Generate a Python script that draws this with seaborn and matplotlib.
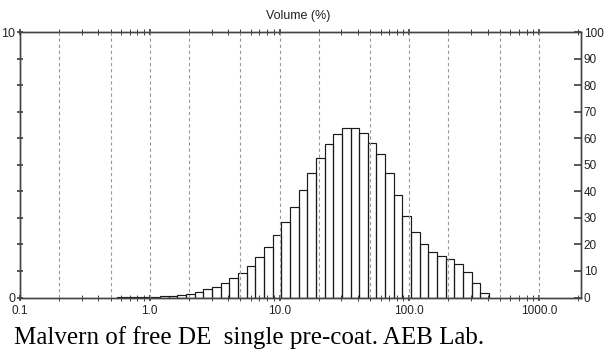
import numpy as np
import pandas as pd
import seaborn as sns
from matplotlib import pyplot as plt
from matplotlib.ticker import LogLocator, NullFormatter

# size class edges (um)
size_edges = [
    0.558, 0.651, 0.759, 0.885, 1.031, 1.202, 1.402, 1.634, 1.905, 2.222,
    2.590, 3.020, 3.521, 4.105, 4.786, 5.580, 6.506, 7.586, 8.845, 10.31,
    12.02, 14.02, 16.34, 19.05, 22.22, 25.90, 30.20, 35.21, 41.05, 47.86,
    55.80, 65.06, 75.86, 88.45, 103.1, 120.2, 140.2, 163.4, 190.5, 222.2,
    259.0, 302.0, 352.1, 410.5,
]
# volume % in each size class
volume_pct = [
    0.01, 0.015, 0.02, 0.025, 0.03, 0.04, 0.06, 0.08, 0.12, 0.21,
    0.31, 0.41, 0.56, 0.75, 0.93, 1.19, 1.51, 1.89, 2.35, 2.85,
    3.42, 4.05, 4.68, 5.27, 5.78, 6.16, 6.37, 6.37, 6.18, 5.83,
    5.39, 4.68, 3.86, 3.07, 2.46, 2.00, 1.73, 1.56, 1.44, 1.25,
    0.95, 0.56, 0.18,
]
grid_sizes = [0.2, 0.5, 1, 2, 5, 10, 20, 50, 100, 200, 500, 1000]
x_ticks = [0.1, 1, 10, 100, 1000]
x_labels = ["0.1", "1.0", "10.0", "100.0", "1000.0"]

edges = np.array(size_edges)
df = pd.DataFrame({
    "size": np.sqrt(edges[:-1] * edges[1:]),
    "volume": volume_pct,
})

sns.set_theme(style="white")
plt.rcParams["font.family"] = ["Liberation Sans", "DejaVu Sans"]

fig = plt.figure(figsize=(6.09, 3.56), dpi=100)
ax = fig.add_axes([0.0328, 0.1643, 0.9212, 0.7457])

# histplot works in log10 space when log_scale is on, so bins go in as log10
sns.histplot(
    data=df,
    x="size",
    weights="volume",
    bins=list(np.log10(edges)),
    log_scale=True,
    fill=False,
    element="bars",
    color="#1a1a1a",
    linewidth=0.85,
    ax=ax,
)

for v in grid_sizes:
    ax.axvline(v, color="#999999", ls=(0, (3, 2.5)), lw=0.8, zorder=3)

ax.set_xlim(0.1, 2100)
ax.set_ylim(0, 10)
ax.set_xlabel("")
ax.set_ylabel("")

ax.set_xticks(x_ticks)
ax.set_xticklabels(x_labels)
ax.xaxis.set_minor_locator(LogLocator(base=10, subs=np.arange(2, 10)))
ax.xaxis.set_minor_formatter(NullFormatter())
ax.tick_params(axis="x", which="both", top=True, bottom=True, direction="inout",
               color="#444444", labelsize=8.5, labelcolor="#222222", pad=3)
ax.tick_params(axis="x", which="major", length=5)
ax.tick_params(axis="x", which="minor", length=4, width=0.7)

ax.set_yticks(range(11))
ax.set_yticklabels(["0"] + [""] * 9 + ["10"])
ax.tick_params(axis="y", left=True, direction="inout", length=5, color="#444444",
               labelsize=9, pad=1)

ax2 = ax.twinx()
ax2.set_ylim(0, 100)
ax2.set_yticks(range(0, 101, 10))
ax2.tick_params(axis="y", right=True, direction="in", length=5, color="#444444",
                labelsize=8.5, labelcolor="#222222", pad=2)

for a in (ax, ax2):
    for s in a.spines.values():
        s.set_color("#444444")
        s.set_linewidth(1.0)

fig.text(298 / 609, 1 - 16 / 356, "Volume (%)", ha="center", va="center",
         fontsize=9, color="#222222")
fig.text(14 / 609, 1 - 338 / 356, "Malvern of free DE  single pre-coat. AEB Lab.",
         ha="left", va="center", fontsize=18, family="Liberation Serif", color="black")

plt.savefig("out.png", dpi=100)
